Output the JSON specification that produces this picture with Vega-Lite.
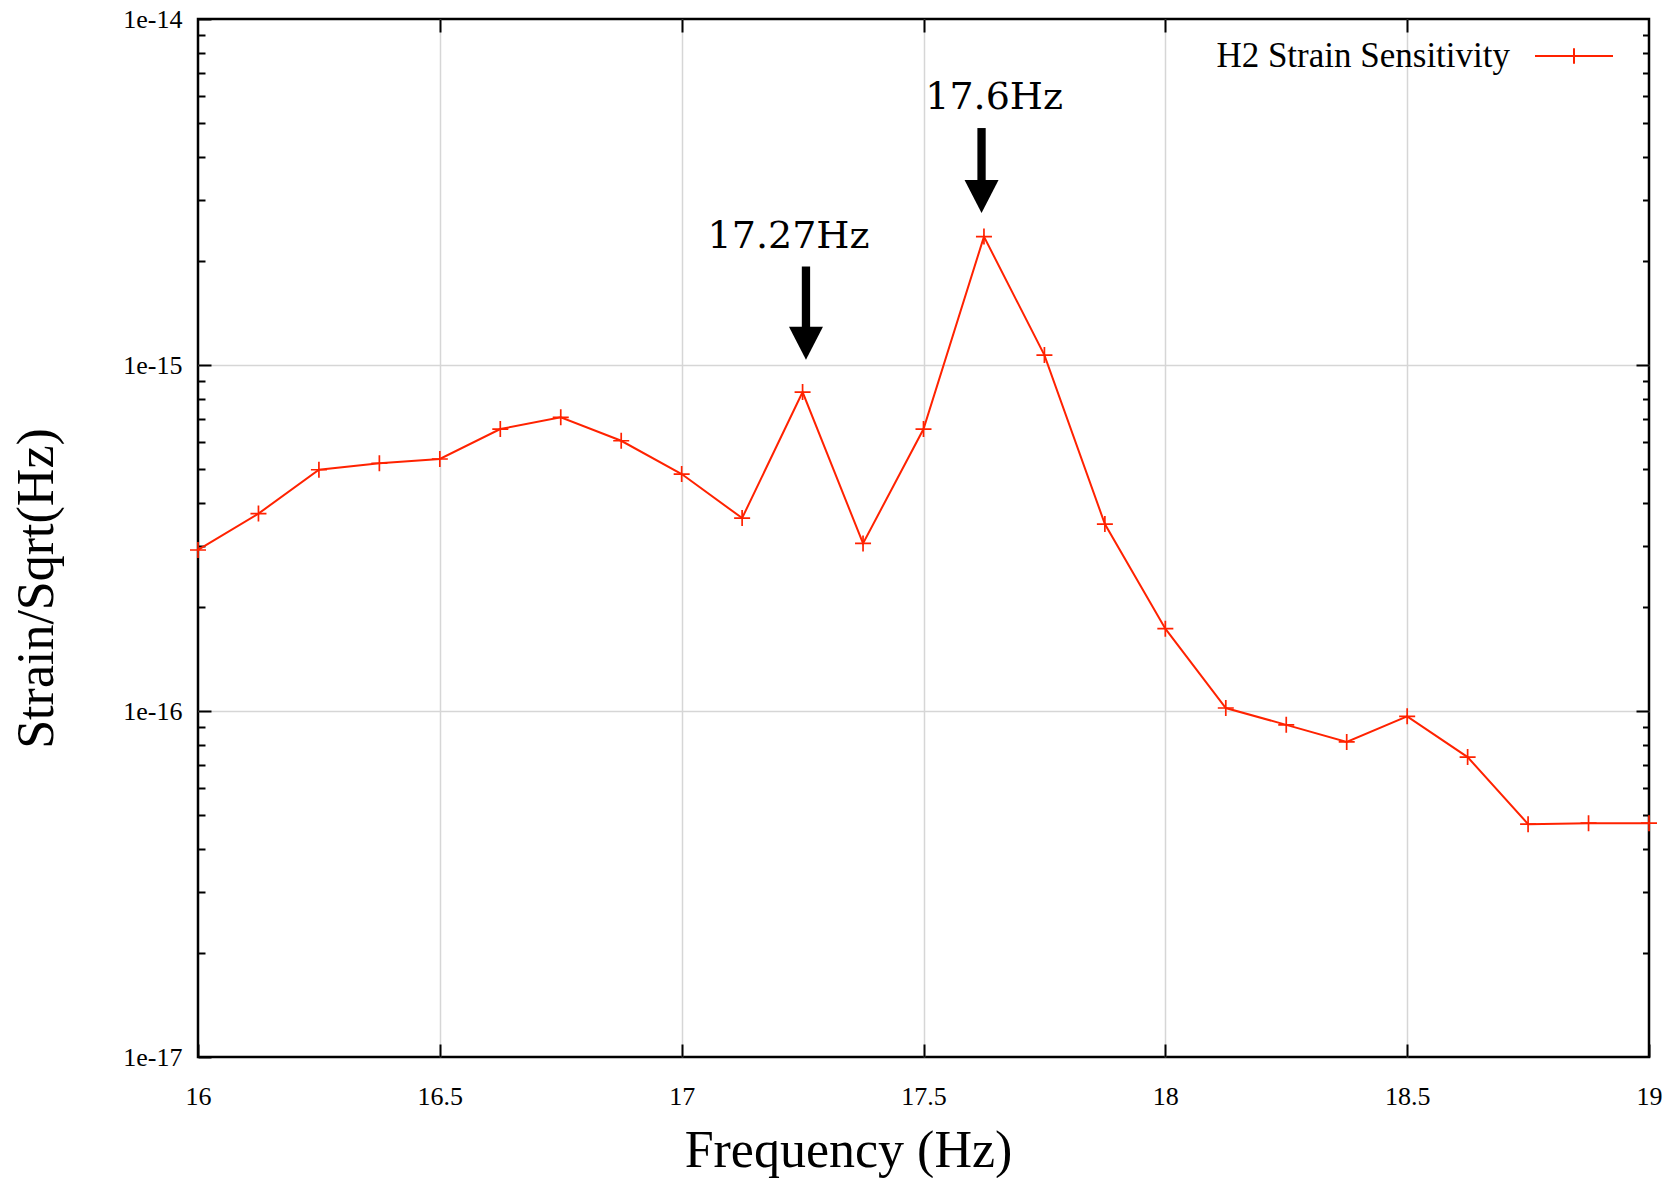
{
  "$schema": "https://vega.github.io/schema/vega-lite/v6.json",
  "autosize": {"type": "none"},
  "padding": {"left": 198, "top": 19, "right": 27, "bottom": 121},
  "width": 1451,
  "height": 1038,
  "background": "white",
  "config": {
    "view": {"stroke": "black", "strokeWidth": 2.5},
    "axis": {"domain": false, "labelFlush": false, "labelOverlap": false, "labelBound": false, "tickColor": "black", "tickWidth": 2, "labelColor": "black", "titleColor": "black", "titleFontWeight": "normal"}
  },
  "datasets": {
    "main": [
      {"f": 16.0, "s": 2.92e-16, "series": "H2 Strain Sensitivity"},
      {"f": 16.125, "s": 3.72e-16, "series": "H2 Strain Sensitivity"},
      {"f": 16.25, "s": 4.98e-16, "series": "H2 Strain Sensitivity"},
      {"f": 16.375, "s": 5.20e-16, "series": "H2 Strain Sensitivity"},
      {"f": 16.5, "s": 5.35e-16, "series": "H2 Strain Sensitivity"},
      {"f": 16.625, "s": 6.53e-16, "series": "H2 Strain Sensitivity"},
      {"f": 16.75, "s": 7.06e-16, "series": "H2 Strain Sensitivity"},
      {"f": 16.875, "s": 6.04e-16, "series": "H2 Strain Sensitivity"},
      {"f": 17.0, "s": 4.84e-16, "series": "H2 Strain Sensitivity"},
      {"f": 17.125, "s": 3.61e-16, "series": "H2 Strain Sensitivity"},
      {"f": 17.25, "s": 8.35e-16, "series": "H2 Strain Sensitivity"},
      {"f": 17.375, "s": 3.05e-16, "series": "H2 Strain Sensitivity"},
      {"f": 17.5, "s": 6.53e-16, "series": "H2 Strain Sensitivity"},
      {"f": 17.625, "s": 2.35e-15, "series": "H2 Strain Sensitivity"},
      {"f": 17.75, "s": 1.068e-15, "series": "H2 Strain Sensitivity"},
      {"f": 17.875, "s": 3.47e-16, "series": "H2 Strain Sensitivity"},
      {"f": 18.0, "s": 1.73e-16, "series": "H2 Strain Sensitivity"},
      {"f": 18.125, "s": 1.02e-16, "series": "H2 Strain Sensitivity"},
      {"f": 18.25, "s": 9.12e-17, "series": "H2 Strain Sensitivity"},
      {"f": 18.375, "s": 8.14e-17, "series": "H2 Strain Sensitivity"},
      {"f": 18.5, "s": 9.65e-17, "series": "H2 Strain Sensitivity"},
      {"f": 18.625, "s": 7.36e-17, "series": "H2 Strain Sensitivity"},
      {"f": 18.75, "s": 4.71e-17, "series": "H2 Strain Sensitivity"},
      {"f": 18.875, "s": 4.74e-17, "series": "H2 Strain Sensitivity"},
      {"f": 19.0, "s": 4.74e-17, "series": "H2 Strain Sensitivity"}
    ],
    "annot": [
      {"f": 17.646, "s": 5.50e-15, "label": "17.6Hz"},
      {"f": 17.221, "s": 2.18e-15, "label": "17.27Hz"}
    ],
    "arrows": [
      {"f": 17.62, "top": 4.84e-15, "bottom": 3.21e-15, "tip": 2.75e-15},
      {"f": 17.257, "top": 1.926e-15, "bottom": 1.215e-15, "tip": 1.035e-15}
    ]
  },
  "resolve": {"scale": {"x": "shared", "y": "shared"}, "axis": {"x": "independent", "y": "independent"}},
  "layer": [
    {
      "data": {"name": "main"},
      "mark": {"type": "line", "strokeWidth": 2, "color": "#ff2200"},
      "encoding": {
        "x": {
          "field": "f", "type": "quantitative",
          "scale": {"domain": [16, 19], "nice": false, "zero": false},
          "axis": {
            "orient": "bottom",
            "values": [16, 16.5, 17, 17.5, 18, 18.5, 19],
            "format": "~g",
            "tickSize": -13,
            "labelPadding": 39,
            "labelFont": "Liberation Serif",
            "labelFontSize": 26,
            "grid": true,
            "gridColor": "#d6d6d6",
            "gridWidth": 1.5,
            "gridOpacity": {"condition": {"test": "datum.value < 16.1 || datum.value > 18.9", "value": 0}, "value": 1},
            "title": "Frequency (Hz)",
            "titleFont": "Liberation Serif",
            "titleFontSize": 52,
            "titleX": 650,
            "titleY": 109,
            "titleAlign": "center",
            "titleBaseline": "alphabetic"
          }
        },
        "y": {
          "field": "s", "type": "quantitative",
          "scale": {"type": "log", "domain": [1e-17, 1e-14], "nice": false},
          "axis": {
            "orient": "left",
            "values": [1e-17, 1e-16, 1e-15, 1e-14],
            "labelExpr": "'1e-' + (-round(log(datum.value) / LN10))",
            "tickSize": -13,
            "labelPadding": 29,
            "labelFont": "Liberation Serif",
            "labelFontSize": 26,
            "grid": true,
            "gridColor": "#d6d6d6",
            "gridWidth": 1.5,
            "gridOpacity": {"condition": {"test": "datum.value < 5e-17 || datum.value > 5e-15", "value": 0}, "value": 1},
            "title": "Strain/Sqrt(Hz)",
            "titleFont": "Liberation Serif",
            "titleFontSize": 52,
            "titleAngle": -90,
            "titleX": -146,
            "titleY": 569,
            "titleAlign": "center",
            "titleBaseline": "alphabetic"
          }
        },
        "color": {
          "field": "series", "type": "nominal",
          "scale": {"range": ["#ff2200"]},
          "legend": {
            "title": null,
            "orient": "none",
            "legendX": 1336,
            "legendY": -3,
            "padding": 0,
            "labelFont": "Liberation Serif",
            "labelFontSize": 35,
            "labelColor": "black",
            "labelAlign": "right",
            "labelOffset": -104,
            "labelLimit": 0,
            "symbolType": "M-1,0L1,0M0,-0.2L0,0.2",
            "symbolSize": 6084,
            "symbolStrokeWidth": 2,
            "symbolStrokeColor": "#ff2200",
            "symbolFillColor": "transparent"
          }
        }
      }
    },
    {
      "data": {"name": "main"},
      "mark": {"type": "point", "shape": "M-1,0L1,0M0,-1L0,1", "size": 256, "filled": false, "strokeWidth": 1.7, "color": "#ff2200", "opacity": 1},
      "encoding": {
        "x": {"field": "f", "type": "quantitative", "axis": {"orient": "top", "values": [16.5, 17, 17.5, 18, 18.5], "tickSize": -13, "labels": false, "grid": false, "title": null}},
        "y": {"field": "s", "type": "quantitative", "axis": {"orient": "right", "values": [1e-16, 1e-15], "tickSize": -13, "labels": false, "grid": false, "title": null}}
      }
    },
    {
      "data": {"name": "arrows"},
      "mark": {"type": "rule", "strokeWidth": 8.3, "color": "black"},
      "encoding": {
        "x": {"field": "f", "type": "quantitative", "axis": null},
        "y": {"field": "top", "type": "quantitative", "axis": {"orient": "left", "values": [2e-17, 3e-17, 4e-17, 5e-17, 6e-17, 7e-17, 8e-17, 9e-17, 2e-16, 3e-16, 4e-16, 5e-16, 6e-16, 7e-16, 8e-16, 9e-16, 2e-15, 3e-15, 4e-15, 5e-15, 6e-15, 7e-15, 8e-15, 9e-15], "tickSize": -7, "labels": false, "grid": false, "title": null}},
        "y2": {"field": "bottom"}
      }
    },
    {
      "data": {"name": "arrows"},
      "mark": {"type": "point", "shape": "M-1,-1.94L1,-1.94L0,0Z", "size": 1156, "filled": true, "color": "black", "opacity": 1, "strokeWidth": 0},
      "encoding": {
        "x": {"field": "f", "type": "quantitative", "axis": null},
        "y": {"field": "tip", "type": "quantitative", "axis": {"orient": "right", "values": [2e-17, 3e-17, 4e-17, 5e-17, 6e-17, 7e-17, 8e-17, 9e-17, 2e-16, 3e-16, 4e-16, 5e-16, 6e-16, 7e-16, 8e-16, 9e-16, 2e-15, 3e-15, 4e-15, 5e-15, 6e-15, 7e-15, 8e-15, 9e-15], "tickSize": -6.5, "labels": false, "grid": false, "title": null}}
      }
    },
    {
      "data": {"name": "annot"},
      "mark": {"type": "text", "font": "DejaVu Serif", "fontSize": 38, "align": "center", "baseline": "alphabetic", "color": "black"},
      "encoding": {
        "x": {"field": "f", "type": "quantitative", "axis": null},
        "y": {"field": "s", "type": "quantitative", "axis": null},
        "text": {"field": "label"}
      }
    }
  ]
}
